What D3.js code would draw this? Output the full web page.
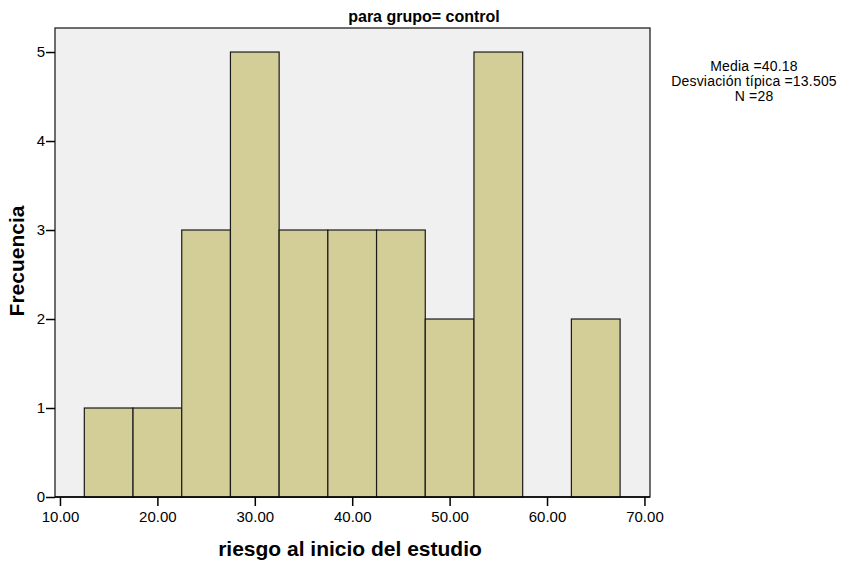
<!DOCTYPE html>
<html>
<head>
<meta charset="utf-8">
<script src="https://cdn.jsdelivr.net/npm/d3@7"></script>
<style>
  body { margin: 0; background: #fff; }
  text { font-family: "Liberation Sans", Arial, sans-serif; fill: #000; }
</style>
</head>
<body>
<div id="chart"></div>
<script>
// histogram bins (lower / upper edges) and counts
const binStart = [12.5, 17.5, 22.5, 27.5, 32.5, 37.5, 42.5, 47.5, 52.5, 57.5, 62.5];
const binEnd   = [17.5, 22.5, 27.5, 32.5, 37.5, 42.5, 47.5, 52.5, 57.5, 62.5, 67.5];
const counts   = [1, 1, 3, 5, 3, 3, 3, 2, 5, 0, 2];
const xTicks = [10, 20, 30, 40, 50, 60, 70];
const yTicks = [0, 1, 2, 3, 4, 5];
const statLines = ["Media =40.18", "Desviación típica =13.505", "N =28"];

const width = 848, height = 564;
const margin = {top: 28, right: 198, bottom: 67, left: 55};

const svg = d3.select("#chart").append("svg")
    .attr("width", width)
    .attr("height", height);

const x = d3.scaleLinear()
    .domain([9.49, 70.57])
    .range([margin.left, width - margin.right]);

const y = d3.scaleLinear()
    .domain([0, 5.27])
    .range([height - margin.bottom, margin.top]);

// plot background
svg.append("rect")
    .attr("x", margin.left)
    .attr("y", margin.top)
    .attr("width", width - margin.left - margin.right)
    .attr("height", height - margin.top - margin.bottom)
    .attr("fill", "#f0f0f0")
    .attr("stroke", "#222")
    .attr("stroke-width", 1.3);

// bars
const data = counts.map((c, i) => ({x0: binStart[i], x1: binEnd[i], n: c}));
svg.selectAll(".bar")
    .data(data.filter(d => d.n > 0))
    .enter()
    .append("rect")
    .attr("class", "bar")
    .attr("x", d => x(d.x0))
    .attr("y", d => y(d.n))
    .attr("width", d => x(d.x1) - x(d.x0))
    .attr("height", d => y(0) - y(d.n))
    .attr("fill", "#d3ce98")
    .attr("stroke", "#1a1a1a")
    .attr("stroke-width", 1.2);

// x axis
const xAxis = d3.axisBottom(x)
    .tickValues(xTicks)
    .tickSize(9)
    .tickSizeOuter(0)
    .tickPadding(5)
    .tickFormat(d3.format(".2f"));

const gx = svg.append("g")
    .attr("transform", `translate(0,${y(0)})`)
    .call(xAxis);
gx.select(".domain").remove();
gx.selectAll(".tick line").attr("stroke", "#000").attr("stroke-width", 1.5);
gx.selectAll("text").style("font-size", "15px");

// y axis
const yAxis = d3.axisLeft(y)
    .tickValues(yTicks)
    .tickSize(9)
    .tickSizeOuter(0)
    .tickPadding(1)
    .tickFormat(d3.format("d"));

const gy = svg.append("g")
    .attr("transform", `translate(${margin.left},0)`)
    .call(yAxis);
gy.select(".domain").remove();
gy.selectAll(".tick line").attr("stroke", "#000").attr("stroke-width", 1.5);
gy.selectAll("text").style("font-size", "15px");

// baseline over bars
svg.append("line")
    .attr("x1", margin.left).attr("x2", width - margin.right)
    .attr("y1", y(0)).attr("y2", y(0))
    .attr("stroke", "#000").attr("stroke-width", 1.5);

// title
svg.append("text")
    .text("para grupo= control")
    .attr("x", 424)
    .attr("y", 22)
    .attr("text-anchor", "middle")
    .style("font-size", "16px")
    .style("font-weight", "bold");

// axis labels
svg.append("text")
    .text("riesgo al inicio del estudio")
    .attr("x", 350)
    .attr("y", 556)
    .attr("text-anchor", "middle")
    .style("font-size", "21px")
    .style("font-weight", "bold");

svg.append("text")
    .text("Frecuencia")
    .attr("transform", "translate(24,261) rotate(-90)")
    .attr("text-anchor", "middle")
    .style("font-size", "21px")
    .style("font-weight", "bold");

// stats box text
svg.selectAll(".stat")
    .data(statLines)
    .enter()
    .append("text")
    .attr("class", "stat")
    .text(d => d)
    .attr("x", 754)
    .attr("y", (d, i) => 71 + i * 15)
    .attr("text-anchor", "middle")
    .style("font-size", "14px")
    .style("letter-spacing", "0.2px");
</script>
</body>
</html>
